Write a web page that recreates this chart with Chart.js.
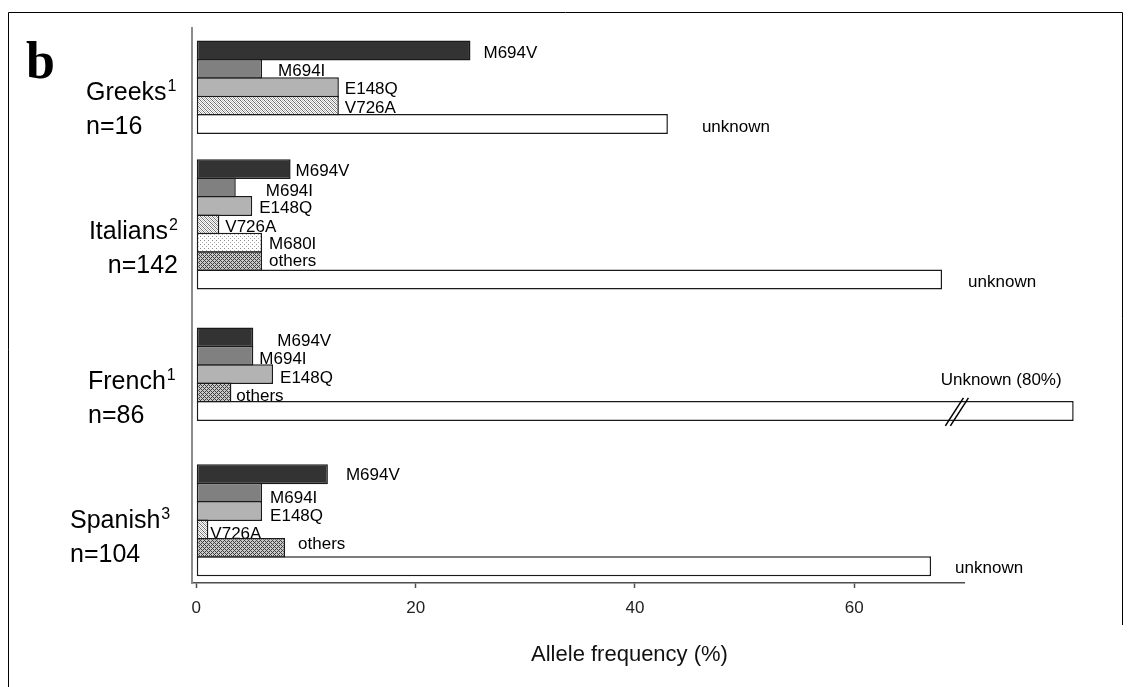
<!DOCTYPE html>
<html>
<head>
<meta charset="utf-8">
<script src="https://cdn.jsdelivr.net/npm/chart.js@4.4.0/dist/chart.umd.min.js"></script>
<style>
  html, body { margin: 0; padding: 0; background: #fff; }
  #quadro { position: relative; width: 1130px; height: 687px; }
</style>
</head>
<body>
<div id="quadro"><canvas id="grafico"></canvas></div>
<script>
// Populações (grupos de barras)
const grupos = ['Greeks', 'Italians', 'French', 'Spanish'];
const grupoSup = ['1', '2', '1', '3'];
const grupoN = ['n=16', 'n=142', 'n=86', 'n=104'];

// Mutações e frequência alélica (%) por população
const greeksMut = ['M694V', 'M694I', 'E148Q', 'V726A', 'unknown'];
const greeksVal = [25, 6, 13, 13, 43];
const italiansMut = ['M694V', 'M694I', 'E148Q', 'V726A', 'M680I', 'others', 'unknown'];
const italiansVal = [8.6, 3.6, 5.1, 2.1, 6, 6, 68];
const frenchMut = ['M694V', 'M694I', 'E148Q', 'others', 'Unknown (80%)'];
const frenchVal = [5.2, 5.2, 7, 3.2, 80];
const spanishMut = ['M694V', 'M694I', 'E148Q', 'V726A', 'others', 'unknown'];
const spanishVal = [12, 6, 6, 1.1, 8.1, 67];

// Eixo x
const xTicks = [0, 20, 40, 60];
const xMaxEixo = 70;
const tituloX = 'Allele frequency (%)';

// Layout: espaço (em linhas) antes de cada grupo
const gapLinhas = [0, 1.45, 2.14, 2.44];
// Ajuste dos rótulos: [dx a partir do fim da barra, dy a partir do centro]
const ajusteRotulos = [
    [[13, 2], [16, 1.5], [6, 1], [6, 1], [34, 1.5]],
    [[5, 1], [30, 2], [7, 1], [6, 2], [7, 0], [7, -1.5], [26, 1]],
    [[24, 2.5], [6, 2], [7, 2.5], [5, 2.5], [-133, -32]],
    [[18, 0], [8, 4.5], [8, 4], [2, 4], [13, -5], [24, 1]]
];
const posGrupos = [
    { x: 86, alinhar: 'left', dy: 13 },
    { x: 178, alinhar: 'right', dy: 15 },
    { x: 88, alinhar: 'left', dy: 15 },
    { x: 70, alinhar: 'left', dy: 8 }
];
// Quebra do eixo na barra "Unknown (80%)"
const quebraValores = [68.3, 69.95];

const fonte = '"Liberation Sans", Arial, sans-serif';
const ctxPrincipal = document.getElementById('grafico').getContext('2d');

// Função para criar padrões de preenchimento
function criarPadrao(tamanho, desenhar) {
    const tela = document.createElement('canvas');
    tela.width = tamanho;
    tela.height = tamanho;
    const g = tela.getContext('2d');
    g.fillStyle = '#ffffff';
    g.fillRect(0, 0, tamanho, tamanho);
    for (let x = 0; x < tamanho; x++) {
        for (let y = 0; y < tamanho; y++) {
            const cor = desenhar(x, y);
            if (cor) {
                g.fillStyle = cor;
                g.fillRect(x, y, 1, 1);
            }
        }
    }
    return ctxPrincipal.createPattern(tela, 'repeat');
}

const padraoListras = criarPadrao(4, (x, y) => {
    const d = (x - y + 4) % 4;
    if (d === 0) return '#6e6e6e';
    if (d === 2) return '#bdbdbd';
    return null;
});
const padraoPontos = criarPadrao(4, (x, y) => {
    if (x === 0 && y === 0) return '#8a8a8a';
    if (x === 2 && y === 2) return '#a8a8a8';
    return null;
});
const padraoXadrez = criarPadrao(4, (x, y) => {
    if ((x + y) % 4 === 0 || (x - y + 4) % 4 === 0) return '#404040';
    return '#c8c8c8';
});

const preenchimento = {
    'M694V': '#333333',
    'M694I': '#808080',
    'E148Q': '#b3b3b3',
    'V726A': padraoListras,
    'M680I': padraoPontos,
    'others': padraoXadrez,
    'unknown': '#ffffff',
    'Unknown (80%)': '#ffffff'
};

// Montar os pontos (uma linha por mutação)
const listas = [[greeksMut, greeksVal], [italiansMut, italiansVal], [frenchMut, frenchVal], [spanishMut, spanishVal]];
const pontos = [];
const cores = [];
const rotulos = [];
const ajustes = [];
const indicesGrupo = [];
let linha = 0;
listas.forEach(([muts, vals], g) => {
    linha += gapLinhas[g];
    const indices = [];
    muts.forEach((m, i) => {
        indices.push(pontos.length);
        pontos.push({ x: vals[i], y: linha });
        cores.push(preenchimento[m]);
        rotulos.push(m);
        ajustes.push(ajusteRotulos[g][i]);
        linha += 1;
    });
    indicesGrupo.push(indices);
});
const linhas = pontos.map(p => p.y);
const indiceQuebra = indicesGrupo[2][indicesGrupo[2].length - 1];

// Rótulos das barras (desenhados antes, as barras cobrem o que sobrepõe)
const pluginRotulos = {
    id: 'rotulos',
    beforeDatasetsDraw(chart) {
        const ctx = chart.ctx;
        const meta = chart.getDatasetMeta(0);
        ctx.save();
        ctx.font = '17px ' + fonte;
        ctx.fillStyle = '#000';
        ctx.textAlign = 'left';
        ctx.textBaseline = 'alphabetic';
        meta.data.forEach((barra, i) => {
            const [dx, dy] = ajustes[i];
            ctx.fillText(rotulos[i], barra.x + dx, barra.y + dy + 6);
        });
        ctx.restore();
    },
    afterDraw(chart) {
        const ctx = chart.ctx;
        const meta = chart.getDatasetMeta(0);
        const escalaX = chart.scales.x;
        ctx.save();

        // Moldura
        ctx.strokeStyle = '#000';
        ctx.lineWidth = 1;
        ctx.beginPath();
        ctx.moveTo(8.5, 687);
        ctx.lineTo(8.5, 12.5);
        ctx.lineTo(1122.5, 12.5);
        ctx.lineTo(1122.5, 625);
        ctx.stroke();

        // Letra do painel
        ctx.fillStyle = '#000';
        ctx.font = 'bold 52px "Liberation Serif", "Times New Roman", serif';
        ctx.textBaseline = 'alphabetic';
        ctx.fillText('b', 26, 78);

        // Nomes das populações
        indicesGrupo.forEach((indices, g) => {
            const yc = (meta.data[indices[0]].y + meta.data[indices[indices.length - 1]].y) / 2;
            const p = posGrupos[g];
            const yBase = yc + p.dy;
            ctx.font = '25px ' + fonte;
            const wNome = ctx.measureText(grupos[g]).width;
            const wN = ctx.measureText(grupoN[g]).width;
            ctx.font = '16px ' + fonte;
            const wSup = ctx.measureText(grupoSup[g]).width;
            let x1 = p.x;
            let x2 = p.x;
            if (p.alinhar === 'right') {
                x1 = p.x - wNome - wSup - 1;
                x2 = p.x - wN;
            }
            ctx.font = '25px ' + fonte;
            ctx.fillText(grupos[g], x1, yBase);
            ctx.fillText(grupoN[g], x2, yBase + 34);
            ctx.font = '16px ' + fonte;
            ctx.fillText(grupoSup[g], x1 + wNome + 1, yBase - 9.5);
        });

        // Quebra na barra de 80%
        const barra = meta.data[indiceQuebra];
        const xa = escalaX.getPixelForValue(quebraValores[0]);
        const xb = escalaX.getPixelForValue(quebraValores[1]);
        ctx.strokeStyle = '#000';
        ctx.lineWidth = 1.5;
        [0, 5].forEach(d => {
            ctx.beginPath();
            ctx.moveTo(xa + d, barra.y + 15);
            ctx.lineTo(xb + d, barra.y - 13);
            ctx.stroke();
        });

        // Título do eixo x
        ctx.font = '22px ' + fonte;
        ctx.textAlign = 'center';
        ctx.textBaseline = 'middle';
        ctx.fillStyle = '#111';
        ctx.fillText(tituloX, escalaX.getPixelForValue(39.5), 655);
        ctx.restore();
    }
};

new Chart(ctxPrincipal, {
    type: 'bar',
    data: {
        datasets: [{
            data: pontos,
            backgroundColor: cores,
            borderColor: '#1a1a1a',
            borderWidth: 1.5,
            borderSkipped: false,
            categoryPercentage: 1,
            barPercentage: 1.08,
            clip: false
        }]
    },
    options: {
        indexAxis: 'y',
        responsive: true,
        maintainAspectRatio: false,
        animation: false,
        layout: {
            padding: { left: 192, right: 166, top: 28, bottom: 0 }
        },
        plugins: {
            legend: { display: false },
            tooltip: { enabled: false },
            title: { display: false }
        },
        scales: {
            x: {
                type: 'linear',
                min: -0.39,
                max: xMaxEixo,
                afterBuildTicks: function(escala) {
                    escala.ticks = xTicks.map(v => ({ value: v }));
                },
                afterFit: function(escala) {
                    escala.height = 104;
                },
                ticks: {
                    color: '#222',
                    padding: 10,
                    font: { family: fonte, size: 17 }
                },
                grid: {
                    display: true,
                    drawOnChartArea: false,
                    drawTicks: true,
                    tickLength: 5,
                    tickColor: '#4d4d4d',
                    tickWidth: 1.5
                },
                border: { display: true, color: '#4d4d4d', width: 1.5 }
            },
            y: {
                type: 'linear',
                reverse: true,
                offset: false,
                min: -1.22,
                max: 28.94,
                afterBuildTicks: function(escala) {
                    escala.ticks = linhas.map(v => ({ value: v }));
                },
                afterFit: function(escala) {
                    escala.width = 0;
                },
                ticks: { display: false },
                grid: { display: false, drawTicks: false, offset: false },
                border: { display: true, color: '#8c8c8c', width: 2 }
            }
        }
    },
    plugins: [pluginRotulos]
});
</script>
</body>
</html>
